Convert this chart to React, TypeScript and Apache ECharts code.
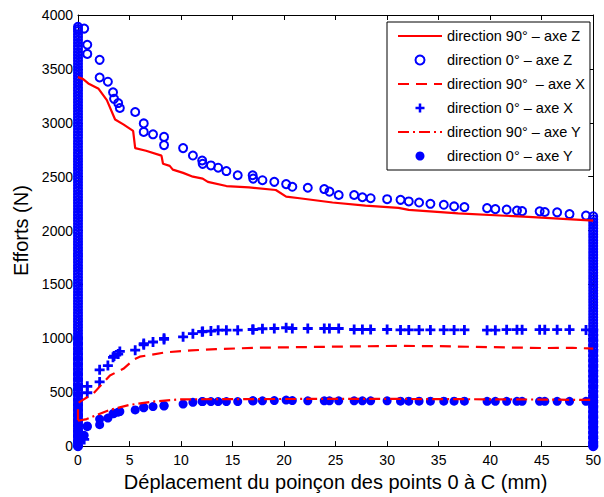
import React, { useEffect, useRef } from "react";
import * as echarts from "echarts";

// ---------- data ----------
const seriesNames = [
  "direction 90° – axe Z",
  "direction 0° – axe Z",
  "direction 90°  – axe X",
  "direction 0° – axe X",
  "direction 90° – axe Y",
  "direction 0° – axe Y",
];

const xMin = 0;
const xMax = 50;
const xStep = 5;
const yMin = 0;
const yMax = 4000;
const yStep = 500;

// direction 90° curves: [displacement, effort]
const z90Line = [
  [0, 3425], [0.5, 3405], [1.0, 3365], [2.0, 3315], [2.8, 3210], [3.6, 3030], [4.4, 2985],
  [5.35, 2925], [5.55, 2765], [6.6, 2740], [8.1, 2695], [8.25, 2620], [8.9, 2600], [9.2, 2565],
  [10.2, 2535], [11.15, 2500], [12.1, 2482], [12.6, 2452], [14.4, 2413], [16.6, 2400],
  [19.2, 2376], [20.2, 2315], [21.5, 2300], [24.7, 2260], [27.9, 2232], [31.1, 2210],
  [32.1, 2192], [36.9, 2160], [43.7, 2126], [49.6, 2095], [50, 2092],
];
const x90Line = [
  [0, 240], [0, 400], [0.36, 422], [1.5, 489], [3.1, 656], [4.4, 717], [5.5, 808], [6.0, 830],
  [7.0, 845], [8.5, 870], [11.0, 888], [13.4, 900], [17.6, 913], [20.0, 916], [26.0, 924],
  [31.0, 930], [35.0, 927], [40.0, 918], [45.0, 910], [48.0, 912], [49.6, 906], [50, 905],
];
const y90Line = [
  [0, 235], [0.84, 251], [3.1, 336], [5.0, 382], [7.3, 413], [9.9, 434], [15, 436], [20, 437],
  [25, 438], [30, 438], [35, 436], [40, 434], [45, 432], [49.6, 428], [50, 428],
];

// direction 0° measurements (shared displacement points)
const disp0 = [
  0.6, 0.9, 0.9, 2.1, 2.1, 2.9, 3.4, 3.5, 3.9, 4.06, 5.55, 6.38, 6.38, 7.28, 8.35, 8.35, 10.2,
  11.15, 12.05, 12.1, 12.9, 13.6, 14.4, 15.5, 16.95, 17.0, 17.9, 19.05, 20.2, 20.8, 22.3, 23.9,
  24.4, 25.3, 26.8, 27.6, 28.4, 30.0, 31.3, 32.1, 33.1, 34.2, 35.5, 36.5, 37.5, 39.7, 40.5,
  41.6, 42.6, 43.1, 44.8, 45.3, 46.5, 47.7, 49.3,
];
const z0 = [
  3874, 3724, 3639, 3584, 3420, 3381, 3283, 3222, 3183, 3137, 3100, 2994, 2915, 2893, 2869, 2793,
  2765, 2696, 2650, 2619, 2604, 2583, 2552, 2513, 2513, 2482, 2467, 2452, 2431, 2406, 2397, 2385,
  2361, 2330, 2330, 2309, 2300, 2291, 2285, 2270, 2260, 2248, 2239, 2224, 2218, 2208, 2199,
  2194, 2185, 2180, 2178, 2172, 2169, 2153, 2139,
];
const x0 = [
  62, 555, 495, 708, 595, 747, 824, 835, 854, 878, 890, 951, 940, 966, 1000, 990, 1014, 1043,
  1061, 1064, 1067, 1076, 1076, 1076, 1082, 1082, 1089, 1091, 1098, 1091, 1091, 1091, 1091,
  1091, 1082, 1082, 1082, 1082, 1078, 1078, 1078, 1078, 1078, 1078, 1078, 1076, 1076, 1080,
  1080, 1080, 1080, 1080, 1080, 1080, 1078,
];
const y0 = [
  100, 187, 180, 251, 199, 260, 300, 305, 315, 321, 336, 361, 355, 367, 377, 372, 390, 406, 413,
  413, 413, 413, 413, 413, 420, 420, 420, 422, 427, 422, 420, 420, 420, 420, 420, 420, 420, 420,
  417, 417, 417, 417, 417, 417, 417, 415, 415, 415, 415, 415, 415, 415, 415, 415, 415,
];

// loading phase (punch at 0 mm) and unloading phase (punch at 50 mm), direction 0°
const loadDisp = 0;
const unloadDisp = 50;
const z0Load = [
  0, 26, 55, 81, 110, 137, 163, 192, 220, 247, 275, 301, 330, 358, 385, 412, 440, 467, 495, 522,
  548, 577, 605, 632, 660, 686, 714, 742, 770, 797, 825, 851, 880, 907, 935, 962, 990, 1016,
  1045, 1072, 1100, 1127, 1155, 1181, 1210, 1237, 1265, 1292, 1320, 1346, 1375, 1402, 1430,
  1457, 1485, 1511, 1540, 1567, 1595, 1622, 1650, 1676, 1705, 1732, 1760, 1787, 1815, 1841,
  1870, 1897, 1925, 1952, 1980, 2006, 2035, 2062, 2090, 2117, 2145, 2171, 2200, 2227, 2255,
  2282, 2310, 2336, 2365, 2392, 2420, 2447, 2475, 2501, 2530, 2557, 2585, 2612, 2640, 2666,
  2695, 2722, 2750, 2777, 2805, 2831, 2860, 2887, 2915, 2942, 2970, 2996, 3025, 3052, 3080,
  3107, 3135, 3161, 3190, 3217, 3245, 3272, 3300, 3326, 3355, 3382, 3410, 3437, 3465, 3491,
  3520, 3547, 3575, 3602, 3630, 3656, 3685, 3712, 3740, 3767, 3795, 3821, 3850, 3870, 3890,
];
const z0Unload = [
  2132, 2104, 2078, 2049, 2021, 1994, 1966, 1939, 1911, 1884, 1856, 1829, 1801, 1774, 1746,
  1719, 1691, 1664, 1636, 1609, 1581, 1554, 1526, 1499, 1471, 1444, 1416, 1389, 1361, 1334,
  1306, 1279, 1251, 1224, 1196, 1169, 1141, 1114, 1086, 1059, 1031, 1004, 976, 949, 921, 894,
  866, 839, 811, 784, 756, 729, 701, 674, 646, 619, 591, 564, 536, 509, 481, 454, 426, 399,
  371, 344, 316, 289, 261, 234, 206, 179, 151, 124, 96, 69, 41, 14, 0,
];
const x0Load = [
  0, 45, 95, 140, 190, 240, 285, 335, 380, 430, 475, 525, 570, 620, 665, 715, 760, 810, 855,
  905, 950, 1000,
];
const x0Unload = [
  1076, 1030, 982, 935, 887, 840, 792, 745, 697, 650, 602, 555, 507, 460, 412, 365, 317, 270,
  222, 175, 127, 80, 32, 0,
];
const y0Load = [0, 40, 85, 125, 170, 210, 255, 300, 340, 385];
const y0Unload = [413, 372, 330, 287, 245, 202, 160, 117, 75, 32, 0];

// ---------- helpers ----------
const RED = "#ff0000";
const BLUE = "#0000ff";
const FONT = "'Liberation Sans', Arial, Helvetica, sans-serif";
const PLUS = "path://M3.6,0H6.4V3.6H10V6.4H6.4V10H3.6V6.4H0V3.6H3.6Z";
const lineSeriesIdx = [0, 2, 4];

function phasePoints(load: number[], main: number[], unload: number[]) {
  const pts: number[][] = [];
  load.forEach((v) => pts.push([loadDisp, v]));
  disp0.forEach((d, i) => pts.push([d, main[i]]));
  unload.forEach((v) => pts.push([unloadDisp, v]));
  return pts;
}

export default function App() {
  const ref = useRef<HTMLDivElement>(null);

  useEffect(() => {
    document.body.style.margin = "0";
    const chart = echarts.init(ref.current!, null, { renderer: "svg" });

    const axisCommon = {
      type: "value" as const,
      axisLine: { show: true, onZero: false, lineStyle: { color: "#000", width: 1 } },
      axisTick: { show: true, inside: true, length: 5, lineStyle: { color: "#000" } },
      splitLine: { show: false },
    };

    chart.setOption({
      animation: false,
      backgroundColor: "#fff",
      textStyle: { fontFamily: FONT },
      grid: { left: 78, right: 9, top: 15, bottom: 44, containLabel: false },
      legend: {
        data: seriesNames.map((n, i) =>
          lineSeriesIdx.includes(i) ? { name: n, itemStyle: { opacity: 0 } } : { name: n }
        ),
        orient: "vertical",
        left: 387,
        top: 22,
        itemWidth: 44,
        itemHeight: 9,
        itemGap: 9,
        padding: [6.5, 5, 6.5, 10],
        borderColor: "#000",
        borderWidth: 1,
        backgroundColor: "#fff",
        selectedMode: false,
        align: "left",
        textStyle: { fontSize: 14.5, color: "#000", fontFamily: FONT },
      },
      xAxis: [
        {
          ...axisCommon,
          position: "bottom",
          min: xMin,
          max: xMax,
          interval: xStep,
          axisLabel: {
            show: true,
            fontSize: 14,
            color: "#000",
            margin: 7,
            fontFamily: FONT,
            formatter: (v: number) => String(v),
          },
          name: "Déplacement du poinçon des points 0 à C (mm)",
          nameLocation: "middle",
          nameGap: 16,
          nameTextStyle: { fontSize: 20, color: "#000", fontFamily: FONT },
        },
        {
          ...axisCommon,
          position: "top",
          min: xMin,
          max: xMax,
          interval: xStep,
          axisLabel: { show: false },
        },
      ],
      yAxis: [
        {
          ...axisCommon,
          position: "left",
          min: yMin,
          max: yMax,
          interval: yStep,
          axisLabel: {
            show: true,
            fontSize: 14,
            color: "#000",
            margin: 5,
            fontFamily: FONT,
            formatter: (v: number) => String(v),
          },
          name: "Efforts (N)",
          nameLocation: "middle",
          nameGap: 42,
          nameTextStyle: { fontSize: 20, color: "#000", fontFamily: FONT },
        },
        {
          ...axisCommon,
          position: "right",
          min: yMin,
          max: yMax,
          interval: yStep,
          axisLabel: { show: false },
        },
      ],
      series: [
        {
          name: seriesNames[0],
          type: "line",
          data: z90Line,
          symbol: "none",
          clip: false,
          silent: true,
          lineStyle: { color: RED, width: 2.2, type: "solid" },
          itemStyle: { color: RED },
        },
        {
          name: seriesNames[2],
          type: "line",
          data: x90Line,
          symbol: "none",
          clip: false,
          silent: true,
          lineStyle: { color: RED, width: 2.2, type: [11, 7] },
          itemStyle: { color: RED },
        },
        {
          name: seriesNames[4],
          type: "line",
          data: y90Line,
          symbol: "none",
          clip: false,
          silent: true,
          lineStyle: { color: RED, width: 2.2, type: [11, 4, 2, 4] },
          itemStyle: { color: RED },
        },
        {
          name: seriesNames[1],
          type: "scatter",
          data: phasePoints(z0Load, z0, z0Unload),
          symbol: "circle",
          symbolSize: 8,
          clip: false,
          silent: true,
          itemStyle: { color: "transparent", borderColor: BLUE, borderWidth: 2, opacity: 1 },
        },
        {
          name: seriesNames[3],
          type: "scatter",
          data: phasePoints(x0Load, x0, x0Unload),
          symbol: PLUS,
          symbolSize: 10,
          clip: false,
          silent: true,
          itemStyle: { color: BLUE, opacity: 1 },
        },
        {
          name: seriesNames[5],
          type: "scatter",
          data: phasePoints(y0Load, y0, y0Unload),
          symbol: "circle",
          symbolSize: 9,
          clip: false,
          silent: true,
          itemStyle: { color: BLUE, opacity: 1 },
        },
      ],
    });

    return () => chart.dispose();
  }, []);

  return (
    <div
      ref={ref}
      style={{ position: "fixed", left: 0, top: 0, width: 604, height: 497, background: "#fff" }}
    />
  );
}
